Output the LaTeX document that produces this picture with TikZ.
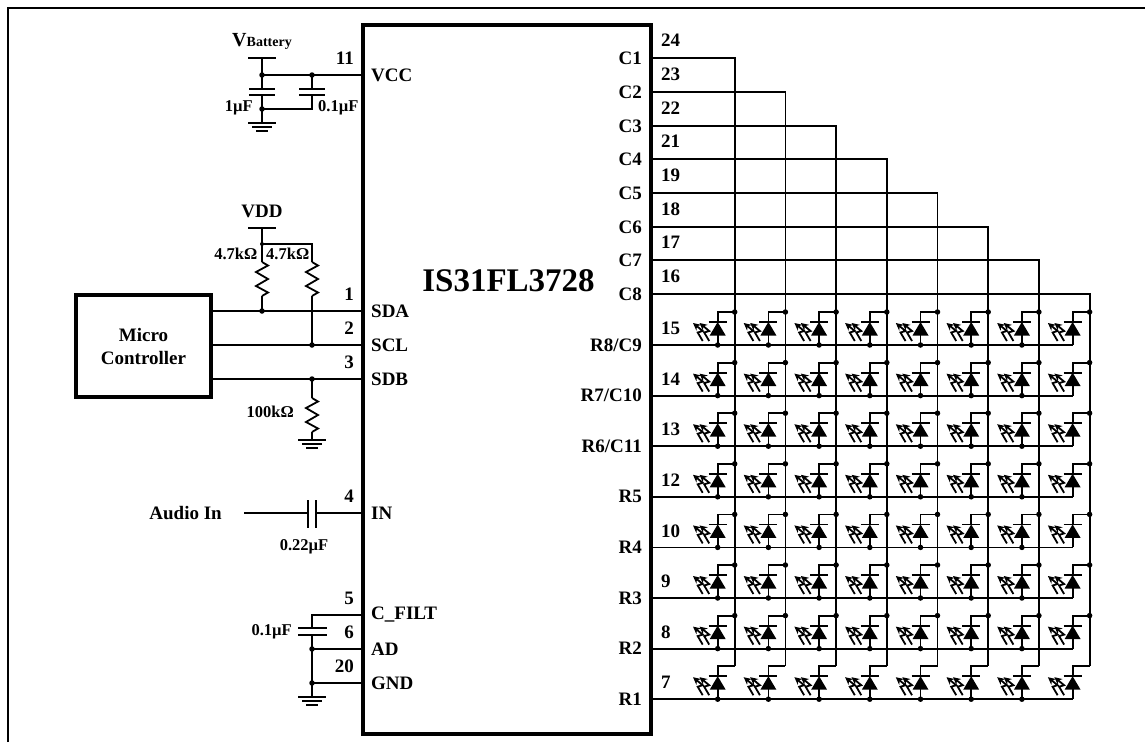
\documentclass[tikz,border=0pt]{standalone}
\usepackage{fontspec}
\setmainfont{Liberation Serif}
\usetikzlibrary{arrows.meta}
\tikzset{
	wire/.style={line width=1.8pt},
	thick wire/.style={line width=3.2pt},
	dot/.style={circle,fill=black,inner sep=0pt,minimum size=5.5pt},
	pinlabel/.style={font=\bfseries\fontsize{19}{23}\selectfont,inner sep=0pt},
	partlabel/.style={font=\bfseries\fontsize{16.5}{16.5}\selectfont,inner sep=0pt},
	led/.pic={
		\fill (-8,13.5) -- (8,13.5) -- (0,0) -- cycle;
		\draw[wire] (-9,0) -- (9,0) (0,13) -- (0,23) (0,0) -- (0,-10) -- (17,-10);
		\foreach \dx in {0,6.5}
		\draw[line width=1.8pt,-{Stealth[length=7.5pt,width=7.5pt]}] (-15+\dx,19) -- (-20+\dx,10.5) -- (-15+\dx,9) -- (-24.7+\dx,1);
	},
	gnd/.pic={
		\draw[wire] (0,0) -- (0,8) (-14,8) -- (14,8) (-10,12) -- (10,12) (-6,16) -- (6,16);
	},
	res/.pic={
		\draw[wire] (0,0) -- (6,3.5) -- (-6,10) -- (6,17) -- (-6,24) -- (6,30.5) -- (0,34);
	},
}
\begin{document}
\begin{tikzpicture}[x=1pt,y=-1pt]
	\useasboundingbox (0,0) rectangle (1145,742);
	\fill[white] (0,0) rectangle (1145,742);
	% frame
	\draw[line width=1.6pt] (8,742) -- (8,8);
	\draw[line width=2.2pt] (7.2,8) -- (1145,8);
	% chip and controller
	\node[draw,thick wire,minimum width=288pt,minimum height=709pt,inner sep=0pt] (ic) at (507,379.5) {};
	\node[draw,thick wire,minimum width=135pt,minimum height=102pt,inner sep=0pt,align=center,pinlabel] (mcu) at (143.5,346) {Micro\\Controller};
	\node[inner sep=0pt,font=\bfseries\fontsize{33}{33}\selectfont] (chip) at (508.5,281) {IS31FL3728};
	% left pins
	\foreach \y/\n/\texn/\num in {75/vcc/VCC/11,311/sda/SDA/1,345/scl/SCL/2,379/sdb/SDB/3,513/in/IN/4,615/cfilt/C\_FILT/5,649/ad/AD/6,683/gnd/GND/20}{
		\coordinate (\n) at (363,\y);
		\node[pinlabel,anchor=west] (l\n) at (371,\y) {\texn};
		\node[pinlabel,anchor=east] (p\n) at (354,\y-17) {\num};
	}
	% right pins
	\foreach \i/\y/\texn/\num in {1/58/C1/24,2/92/C2/23,3/126/C3/22,4/159/C4/21,5/193/C5/19,6/227/C6/18,7/260/C7/17,8/294/C8/16}{
		\pgfmathsetmacro{\colx}{684+50.7*\i}
		\coordinate (c\i) at (651,\y);
		\coordinate (cb\i) at (\colx,\y);
		\coordinate (ce\i) at (\colx,665.7);
		\node[pinlabel,anchor=east] (lc\i) at (642,\y) {\texn};
		\node[pinlabel,anchor=west] (pc\i) at (661,\y-18) {\num};
		\draw[wire] (c\i) -- (cb\i) -- (ce\i);
	}
	\foreach \i/\texn/\num in {1/{R8/C9}/15,2/{R7/C10}/14,3/{R6/C11}/13,4/R5/12,5/R4/10,6/R3/9,7/R2/8,8/R1/7}{
		\pgfmathsetmacro{\y}{345+50.6*(\i-1)}
		\coordinate (r\i) at (651,\y);
		\coordinate (re\i) at (1073,\y);
		\node[pinlabel,anchor=east] (lr\i) at (642,\y) {\texn};
		\node[pinlabel,anchor=west] (pr\i) at (661,\y-16.5) {\num};
		\draw[wire] (r\i) -- (re\i);
		\foreach \j in {1,...,8}{
			\pgfmathsetmacro{\ledx}{667+50.7*\j}
			\pic at (\ledx,\y-23) {led};
			\ifnum\j<8 \node[dot] at (\ledx,\y) {}; \fi
			\ifnum\i<8 \node[dot] at (\ledx+17,\y-33) {}; \fi
		}
	}
	% battery
	\node[inner sep=0pt] (vbat) at (262,41) {\bfseries{\fontsize{20}{20}\selectfont V}\fontsize{14}{14}\selectfont Battery};
	\coordinate (batbar) at (262,58);
	\coordinate (batj) at (262,75);
	\coordinate (batk) at (312,75);
	\node[dot] at (batj) {};
	\node[dot] at (batk) {};
	\draw[wire] (248,58) -- (276,58) (batbar) -- (batj) (batj) -- (vcc);
	\draw[wire] (batj) -- (262,89) (249,89) -- (275,89) (249,95) -- (275,95) (262,95) -- (262,115);
	\draw[wire] (batk) -- (312,89) (299,89) -- (325,89) (299,95) -- (325,95) (312,95) -- (312,109) -- (262,109);
	\node[dot] at (262,109) {};
	\pic at (262,115) {gnd};
	\node[partlabel,anchor=east] (c1uf) at (253,108) {1µF};
	\node[partlabel,anchor=west] (c01uf) at (318,108) {0.1µF};
	% pull ups
	\node[inner sep=0pt,pinlabel] (vdd) at (262,211) {VDD};
	\draw[wire] (248,228) -- (276,228) (262,228) -- (262,262);
	\draw[wire] (262,244) -- (312,244) -- (312,262);
	\node[dot,minimum size=4pt] at (262,244) {};
	\pic at (262,262) {res};
	\pic at (312,262) {res};
	\draw[wire] (262,296) -- (262,311) (312,296) -- (312,345);
	\node[partlabel,anchor=east] (r47a) at (257.5,254) {4.7kΩ};
	\node[partlabel,anchor=west] (r47b) at (266,254) {4.7kΩ};
	\draw[wire] (mcu.east |- sda) -- (sda);
	\draw[wire] (mcu.east |- scl) -- (scl);
	\draw[wire] (mcu.east |- sdb) -- (sdb);
	\node[dot] at (262,311) {};
	\node[dot] at (312,345) {};
	\node[dot] at (312,379) {};
	% sdb pull down
	\draw[wire] (312,379) -- (312,398);
	\pic at (312,398) {res};
	\pic at (312,432) {gnd};
	\node[partlabel,anchor=east] (r100) at (294,412) {100kΩ};
	% audio
	\node[pinlabel,anchor=east] (audio) at (222,513) {Audio In};
	\draw[wire] (244,513) -- (308,513) (308,500) -- (308,528) (316,500) -- (316,528) (316,513) -- (in);
	\node[partlabel] (c022) at (304,547) {0.22µF};
	% filter
	\draw[wire] (cfilt) -- (312,615) -- (312,628) (298,628) -- (327,628) (298,635) -- (327,635) (312,635) -- (312,689);
	\draw[wire] (312,649) -- (ad) (312,683) -- (gnd);
	\node[dot] at (312,649) {};
	\node[dot] at (312,683) {};
	\pic at (312,689) {gnd};
	\node[partlabel,anchor=east] (c01) at (292,632) {0.1µF};
\end{tikzpicture}
\end{document}
